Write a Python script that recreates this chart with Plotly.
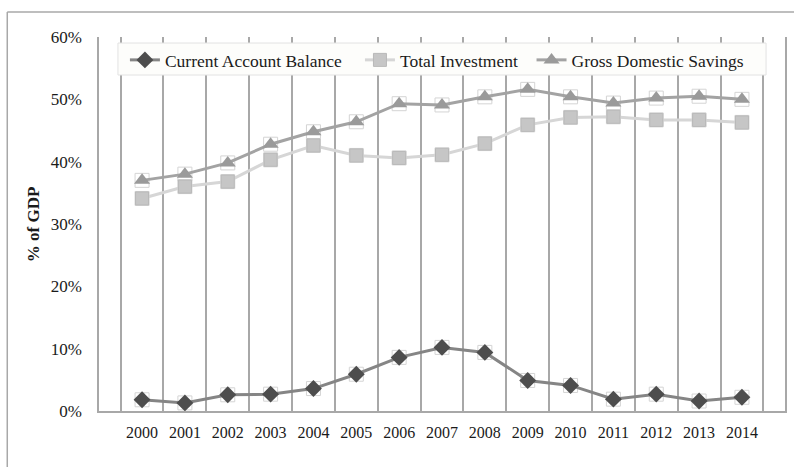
import plotly.graph_objects as go

years = [str(y) for y in range(2000, 2015)]
cab = [1.8, 1.3, 2.6, 2.7, 3.6, 5.9, 8.6, 10.2, 9.4, 4.9, 4.1, 1.9, 2.7, 1.6, 2.2]
inv = [34.1, 36.0, 36.8, 40.3, 42.6, 41.0, 40.6, 41.1, 42.9, 45.9, 47.1, 47.2, 46.7, 46.7, 46.3]
gds = [37.0, 38.0, 39.8, 42.8, 44.8, 46.4, 49.3, 49.1, 50.4, 51.6, 50.4, 49.4, 50.2, 50.5, 50.0]
y_ticks = [0, 10, 20, 30, 40, 50, 60]
y_tick_text = [f"{v}%" for v in y_ticks]

FONT = "Liberation Serif"
W, H = 794, 467
ML, MR, MT, MB = 99, 7, 37, 56
PW, PH = W - ML - MR, H - MT - MB
NB = "\u00a0"

def px2paper_x(px):
    return (px - ML) / PW

def px2paper_y(py):
    return (H - MB - py) / PH

fig = go.Figure()

# faint square boxes behind markers
for vals in (gds, inv, cab):
    fig.add_trace(go.Scatter(
        x=years, y=vals, mode="markers", showlegend=False, hoverinfo="skip",
        marker=dict(symbol="square-open", size=14, color="#d4d4d4", line=dict(width=1, color="#d4d4d4")),
    ))

fig.add_trace(go.Scatter(
    x=years, y=cab, name="Current Account Balance" + NB * 3, mode="lines+markers",
    line=dict(color="#858585", width=3),
    marker=dict(symbol="diamond", size=13, color="#4d4d4d", line=dict(width=0)),
))
fig.add_trace(go.Scatter(
    x=years, y=inv, name="Total Investment" + NB * 2, mode="lines+markers",
    line=dict(color="#d6d6d6", width=3),
    marker=dict(symbol="square", size=13, color="#c6c6c6", line=dict(width=1, color="#b8b8b8")),
))
fig.add_trace(go.Scatter(
    x=years, y=gds, name="Gross Domestic Savings", mode="lines+markers",
    line=dict(color="#a3a3a3", width=3),
    marker=dict(symbol="triangle-up", size=14, color="#9a9a9a", line=dict(width=0)),
))

# outer frame lines
fig.add_shape(type="line", xref="paper", yref="paper",
              x0=px2paper_x(7), x1=px2paper_x(7), y0=px2paper_y(12), y1=px2paper_y(480),
              line=dict(color="#a8a8a8", width=1.5))
fig.add_shape(type="line", xref="paper", yref="paper",
              x0=px2paper_x(7), x1=px2paper_x(800), y0=px2paper_y(12), y1=px2paper_y(12),
              line=dict(color="#a8a8a8", width=1.5))
# legend box (covers gridlines)
fig.add_shape(type="rect", xref="paper", yref="paper", layer="above",
              x0=px2paper_x(118), x1=px2paper_x(768), y0=px2paper_y(43), y1=px2paper_y(75),
              fillcolor="#fdfdfb", line=dict(color="#e2e2e2", width=1))

fig.add_annotation(
    text="<b>% of GDP</b>", textangle=-90, xref="paper", yref="paper",
    x=px2paper_x(33), y=0.5, xanchor="center", yanchor="middle", showarrow=False,
    font=dict(family=FONT, size=17, color="#1a1a1a"),
)

fig.update_layout(
    width=W, height=H,
    margin=dict(l=ML, r=MR, t=MT, b=MB),
    paper_bgcolor="white", plot_bgcolor="white",
    font=dict(family=FONT, size=16, color="#1a1a1a"),
    showlegend=True,
    legend=dict(
        orientation="h", x=px2paper_x(125), y=px2paper_y(42), xanchor="left", yanchor="top",
        bgcolor="rgba(0,0,0,0)", borderwidth=0,
        font=dict(family=FONT, size=17.5, color="#1a1a1a"),
        traceorder="normal",
    ),
    xaxis=dict(
        type="category", tickson="boundaries", showgrid=True, gridcolor="#a8a8a8", gridwidth=1.5,
        showline=True, linecolor="#a8a8a8", linewidth=1.5, ticks="", ticklabelstandoff=6,
        tickfont=dict(family=FONT, size=16, color="#1a1a1a"), zeroline=False,
    ),
    yaxis=dict(
        range=[0, 60], tickvals=y_ticks, ticktext=y_tick_text, showgrid=False,
        showline=True, linecolor="#a8a8a8", linewidth=1.5, mirror=True, ticks="",
        ticklabelstandoff=12, zeroline=False,
        tickfont=dict(family=FONT, size=17, color="#1a1a1a"),
    ),
)

fig.write_html("out.html")
